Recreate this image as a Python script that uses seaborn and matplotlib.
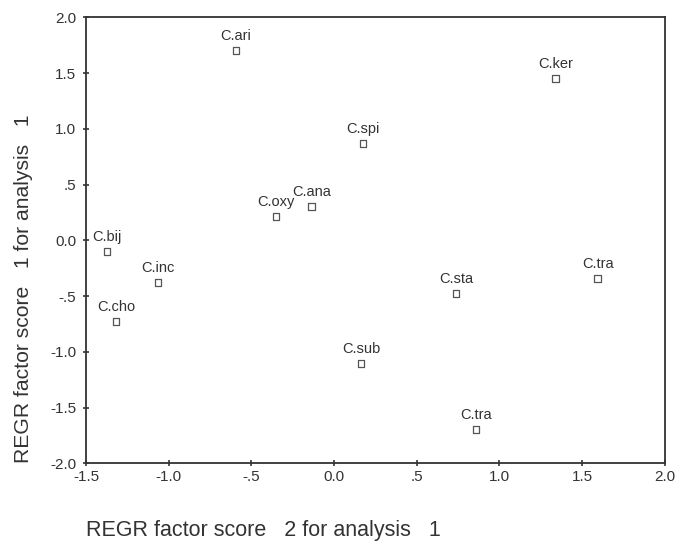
import matplotlib
matplotlib.use("Agg")
import matplotlib.pyplot as plt
import seaborn as sns
import pandas as pd
from matplotlib.ticker import FixedLocator, FixedFormatter

labels = ["C.ari", "C.ker", "C.spi", "C.oxy", "C.ana", "C.bij", "C.inc",
          "C.cho", "C.tra", "C.sta", "C.sub", "C.tra"]
score2 = [-0.593, 1.340, 0.175, -0.351, -0.134, -1.373, -1.065,
          -1.319, 1.595, 0.737, 0.163, 0.858]
score1 = [1.706, 1.454, 0.871, 0.215, 0.305, -0.099, -0.377,
          -0.727, -0.341, -0.476, -1.104, -1.697]

xticks = [-1.5, -1.0, -0.5, 0.0, 0.5, 1.0, 1.5, 2.0]
xtick_labels = ["-1.5", "-1.0", "-.5", "0.0", ".5", "1.0", "1.5", "2.0"]
yticks = [-2.0, -1.5, -1.0, -0.5, 0.0, 0.5, 1.0, 1.5, 2.0]
ytick_labels = ["-2.0", "-1.5", "-1.0", "-.5", "0.0", ".5", "1.0", "1.5", "2.0"]

df = pd.DataFrame({"label": labels, "x": score2, "y": score1})

sns.set_style("white")
plt.rcParams["font.family"] = ["Liberation Sans", "DejaVu Sans"]
ink = "#333333"

fig = plt.figure(figsize=(6.77, 5.45), dpi=100)
ax = fig.add_axes([0.127, 0.150, 0.855, 0.818])

sns.scatterplot(data=df, x="x", y="y", ax=ax, marker="s", s=24,
                facecolor="none", edgecolor="#555555", linewidth=0.9,
                legend=False)

for lab, xv, yv in zip(labels, score2, score1):
    ax.annotate(lab, (xv, yv), xytext=(0, 5.5), textcoords="offset points",
                ha="center", va="bottom", fontsize=10.5, color=ink)

ax.set_xlim(-1.5, 2.0)
ax.set_ylim(-2.0, 2.0)
ax.xaxis.set_major_locator(FixedLocator(xticks))
ax.xaxis.set_major_formatter(FixedFormatter(xtick_labels))
ax.yaxis.set_major_locator(FixedLocator(yticks))
ax.yaxis.set_major_formatter(FixedFormatter(ytick_labels))

ax.tick_params(axis="both", which="major", direction="inout", length=4,
               width=1.2, color=ink, labelcolor=ink, labelsize=11,
               bottom=True, left=True, top=False, right=False)
ax.tick_params(axis="x", pad=3)
ax.tick_params(axis="y", pad=5)

for sp in ax.spines.values():
    sp.set_color(ink)
    sp.set_linewidth(1.3)

ax.set_xlabel("REGR factor score   2 for analysis   1", fontsize=15.5,
              color=ink, loc="left")
ax.set_ylabel("REGR factor score   1 for analysis   1", fontsize=15.2,
              color=ink, loc="bottom")
ax.xaxis.set_label_coords(0.0, -0.128)
ax.yaxis.set_label_coords(-0.092, 0.0)

fig.savefig("out.png", dpi=100)
